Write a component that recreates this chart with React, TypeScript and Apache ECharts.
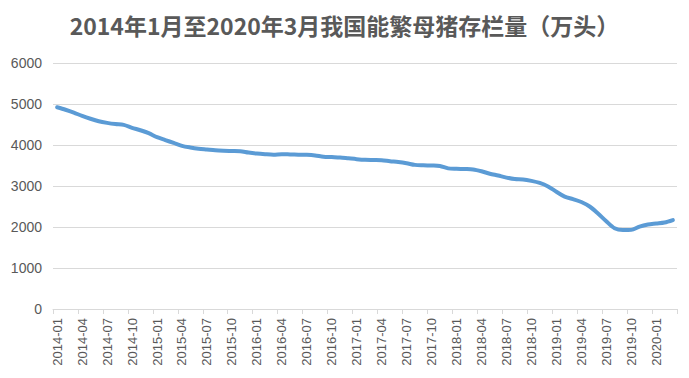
import React, { useEffect, useRef } from "react";
import * as echarts from "echarts";

const titleText = "2014年1月至2020年3月我国能繁母猪存栏量（万头）";

const startYear = 2014;
const monthCount = 75;
const categories: string[] = [];
for (let i = 0; i < monthCount; i++) {
  const y = startYear + Math.floor(i / 12);
  const m = (i % 12) + 1;
  categories.push(`${y}-${m < 10 ? "0" + m : m}`);
}

const sowStock = [
  4920, 4860, 4790, 4710, 4640, 4580, 4540, 4510, 4490, 4420, 4360, 4290,
  4190, 4120, 4050, 3980, 3940, 3910, 3890, 3870, 3860, 3855, 3850, 3815,
  3790, 3775, 3765, 3775, 3770, 3765, 3760, 3745, 3715, 3705, 3695, 3675,
  3655, 3640, 3635, 3630, 3605, 3585, 3555, 3515, 3505, 3500, 3490, 3430,
  3420, 3415, 3405, 3360, 3300, 3255, 3205, 3170, 3160, 3125, 3075, 2990,
  2860, 2740, 2680, 2610, 2500, 2330, 2140, 1970, 1925, 1930, 2010, 2060,
  2085, 2110, 2170,
];

const yMin = 0;
const yMax = 6000;
const yInterval = 1000;

export default function App() {
  const ref = useRef<HTMLDivElement>(null);
  useEffect(() => {
    if (!ref.current) return;
    const chart = echarts.init(ref.current, undefined, { renderer: "svg" });
    chart.setOption({
      animation: false,
      backgroundColor: "#ffffff",
      title: {
        text: titleText,
        left: "center",
        top: 8,
        textStyle: {
          fontFamily: "Noto Sans CJK SC",
          fontSize: 23,
          fontWeight: "bold",
          color: "#595959",
        },
      },
      grid: { left: 53, right: 12, top: 63, bottom: 69, containLabel: false },
      xAxis: {
        type: "category",
        data: categories,
        boundaryGap: true,
        axisLine: { lineStyle: { color: "#d9d9d9", width: 1 } },
        axisTick: {
          show: true,
          interval: 2,
          length: 5,
          lineStyle: { color: "#d9d9d9" },
        },
        axisLabel: {
          interval: 2,
          rotate: 90,
          fontSize: 13,
          color: "#595959",
          fontFamily: "Liberation Sans",
          margin: 9,
        },
      },
      yAxis: {
        type: "value",
        min: yMin,
        max: yMax,
        interval: yInterval,
        axisLine: { show: false },
        axisTick: { show: false },
        axisLabel: {
          fontSize: 14,
          color: "#595959",
          fontFamily: "Liberation Sans",
          margin: 11,
          formatter: (v: number) => String(v),
        },
        splitLine: { lineStyle: { color: "#d9d9d9", width: 1 } },
      },
      series: [
        {
          type: "line",
          data: sowStock,
          smooth: 0.3,
          symbol: "none",
          lineStyle: { color: "#5b9bd5", width: 4, cap: "round", join: "round" },
        },
      ],
    });
    return () => chart.dispose();
  }, []);
  return (
    <div
      ref={ref}
      style={{ position: "fixed", left: 0, top: 0, width: 689, height: 378 }}
    />
  );
}
